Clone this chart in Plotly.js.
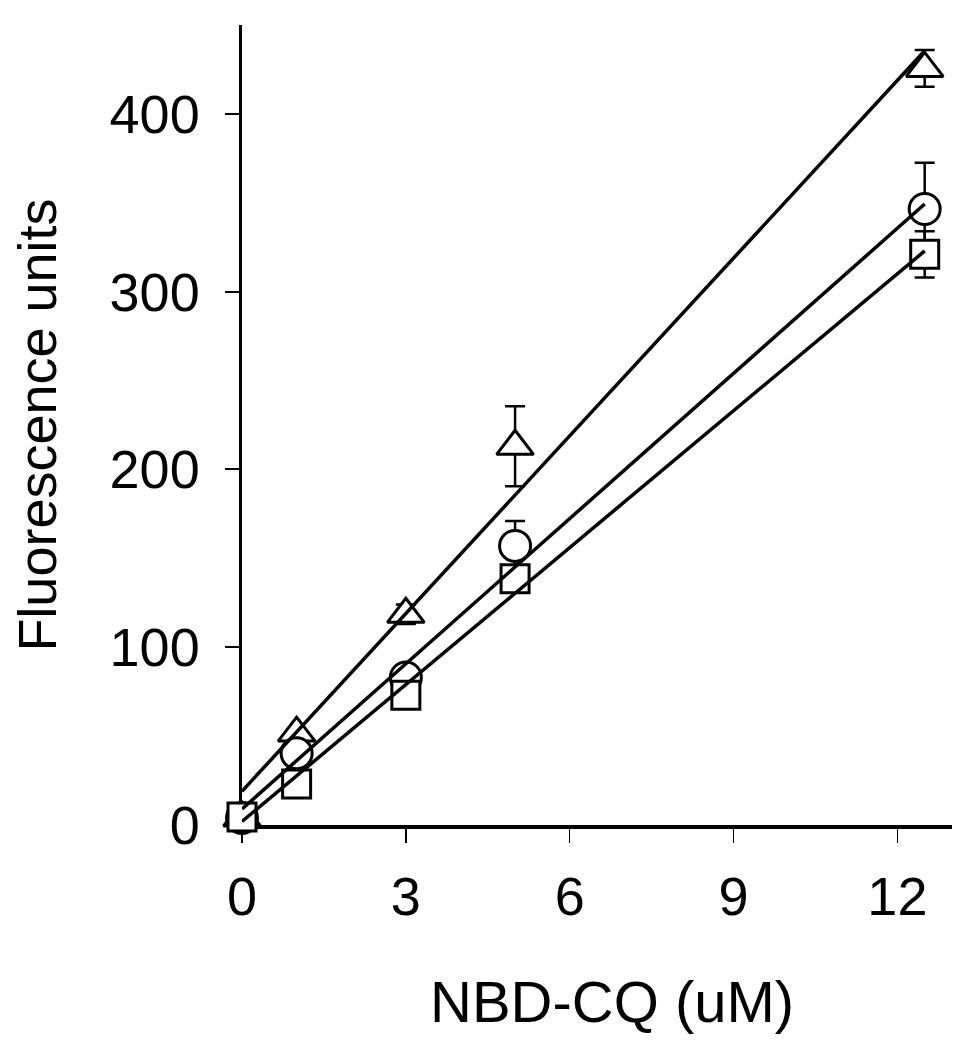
<!DOCTYPE html>
<html>
<head>
<meta charset="utf-8">
<script src="https://cdn.plot.ly/plotly-3.0.1.min.js"></script>
<style>
  html, body { margin: 0; padding: 0; background: white; }
  #chart { width: 978px; height: 1050px; }
</style>
</head>
<body>
<div id="chart"></div>
<script>
// NBD-CQ concentration (uM)
const conc = [0, 1, 3, 5, 12.5];

// fluorescence readings, three series (triangle, circle, square)
const triVals = [4, 51.7, 118.5, 213, 425.6];
const triErr = [0, 0, 5.5, 22.5, 10.3];
const circVals = [4, 40.3, 83, 157, 346.5];
const circErr = [0, 0, 0, 14, 26];
const sqVals = [4.5, 23, 73, 138.5, 321];
const sqErr = [0, 0, 0, 0, 13];

// linear fits, end points
const fitX = [0, 12.5];
const triFit = [19, 435.5];
const circFit = [9, 349.3];
const sqFit = [2, 322.9];

const xTicks = [0, 3, 6, 9, 12];
const yTicks = [0, 100, 200, 300, 400];

const font = "Liberation Sans, Arial, Helvetica, sans-serif";

function points(y, err, symbol, size) {
  return {
    x: conc,
    y: y,
    type: "scatter",
    mode: "markers",
    cliponaxis: false,
    marker: {
      symbol: symbol,
      size: size,
      color: "white",
      line: { color: "black", width: 3 },
    },
    error_y: {
      type: "data",
      array: err,
      visible: true,
      color: "black",
      thickness: 2.5,
      width: 10,
    },
    hoverinfo: "x+y",
  };
}

function fitLine(y) {
  return {
    x: fitX,
    y: y,
    type: "scatter",
    mode: "lines",
    cliponaxis: false,
    line: { color: "black", width: 3.5 },
    hoverinfo: "skip",
  };
}

const data = [
  points(triVals, triErr, "triangle-up", 32),
  points(circVals, circErr, "circle", 31),
  points(sqVals, sqErr, "square", 28),
  fitLine(triFit),
  fitLine(circFit),
  fitLine(sqFit),
];

const layout = {
  width: 978,
  height: 1050,
  showlegend: false,
  paper_bgcolor: "white",
  plot_bgcolor: "white",
  margin: { l: 242, r: 26, t: 25, b: 225 },
  font: { family: font, color: "black" },
  xaxis: {
    range: [0, 13],
    tickvals: xTicks,
    ticktext: xTicks.map(String),
    ticks: "outside",
    ticklen: 14,
    tickwidth: 1.5,
    tickcolor: "black",
    showline: true,
    linecolor: "black",
    linewidth: 3.5,
    showgrid: false,
    zeroline: false,
    layer: "below traces",
    tickfont: { size: 54, family: font },
    ticklabelstandoff: 8,
  },
  yaxis: {
    range: [0, 450],
    tickvals: yTicks,
    ticktext: yTicks.map(String),
    ticks: "outside",
    ticklen: 14,
    tickwidth: 2,
    tickcolor: "black",
    showline: true,
    linecolor: "black",
    linewidth: 3.5,
    showgrid: false,
    zeroline: false,
    layer: "below traces",
    tickfont: { size: 54, family: font },
    ticklabelstandoff: 14,
    title: { text: "Fluorescence units", font: { size: 54, family: font }, standoff: 36 },
  },
  annotations: [
    {
      text: "NBD-CQ (uM)",
      xref: "paper",
      yref: "paper",
      x: 0.521,
      y: -0.221,
      xanchor: "center",
      yanchor: "middle",
      showarrow: false,
      font: { size: 58, family: font, color: "black" },
    },
  ],
};

Plotly.newPlot("chart", data, layout, { staticPlot: true });
</script>
</body>
</html>
